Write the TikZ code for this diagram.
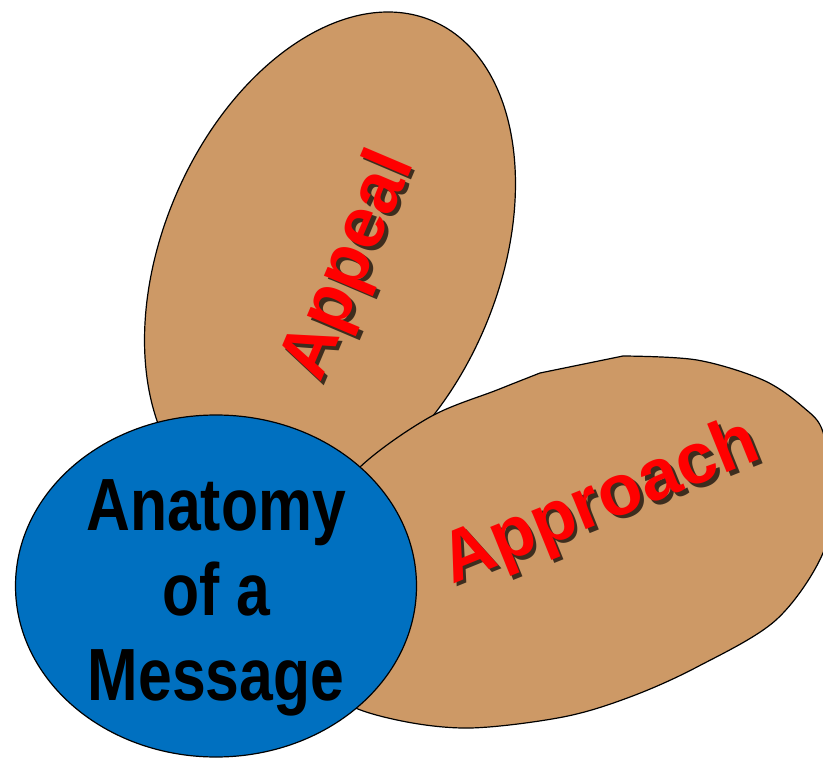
\documentclass[tikz,border=0pt]{standalone}
\usepackage{fontspec}
\setmainfont{Liberation Sans}
\newfontfamily\narrowfont[FakeStretch=0.82]{Liberation Sans}
\usetikzlibrary{shapes.geometric}
\definecolor{tanfill}{RGB}{205,153,102}
\definecolor{msgblue}{RGB}{0,112,192}
\begin{document}
\begin{tikzpicture}[x=1pt,y=-1pt,
  outline/.style={draw=black, line width=1.2pt},
  petal/.style={outline, fill=tanfill},
  petalellipse/.style={petal, ellipse, minimum width=524pt, minimum height=336pt, inner sep=0pt, outer sep=0pt},
  hub/.style={outline, fill=msgblue, ellipse, minimum width=401pt, minimum height=342pt, inner sep=0pt, outer sep=0pt},
  redword/.style={font=\fontsize{72}{80}\selectfont\bfseries, text=red, inner sep=0pt},
  shadowword/.style={font=\fontsize{72}{80}\selectfont\bfseries, text=black, inner sep=0pt, opacity=0.7},
  hubtext/.style={font=\narrowfont\fontsize{74}{85}\selectfont\bfseries, align=center, inner sep=0pt, text=black}]
\useasboundingbox (0,0) rectangle (823,760);
\clip (0,0) rectangle (823,760);
% Appeal petal
\node[petalellipse, rotate=67] (appeal) at (330,262) {};
% Approach petal
\draw[petal] plot[smooth, tension=0.55] coordinates {(623,356) (697,360) (763,380) (803,407) (823,432) (830,492) (823,553) (776,620) (697,667) (630,697) (563,717) (470,728) (397,720) (340,700) (300,655) (290,600) (310,530) (360,467) (430,417) (497,390) (540,373)} -- cycle;
\coordinate (approach) at (560,545);
% hub
\node[hub] (hub) at (216,586) {};
\node[hubtext, anchor=north] (hubtext) at (216,479) {Anatomy\\of a\\Message};
% words with shadows
\node[shadowword, rotate=67] (appealshadow) at (353.5,269.5) {Appeal};
\node[redword, rotate=67] (appealtext) at (350,266) {Appeal};
\node[shadowword, rotate=22] (approachshadow) at (604.5,507.5) {Approach};
\node[redword, rotate=22] (approachtext) at (601,504) {Approach};
\end{tikzpicture}
\end{document}
